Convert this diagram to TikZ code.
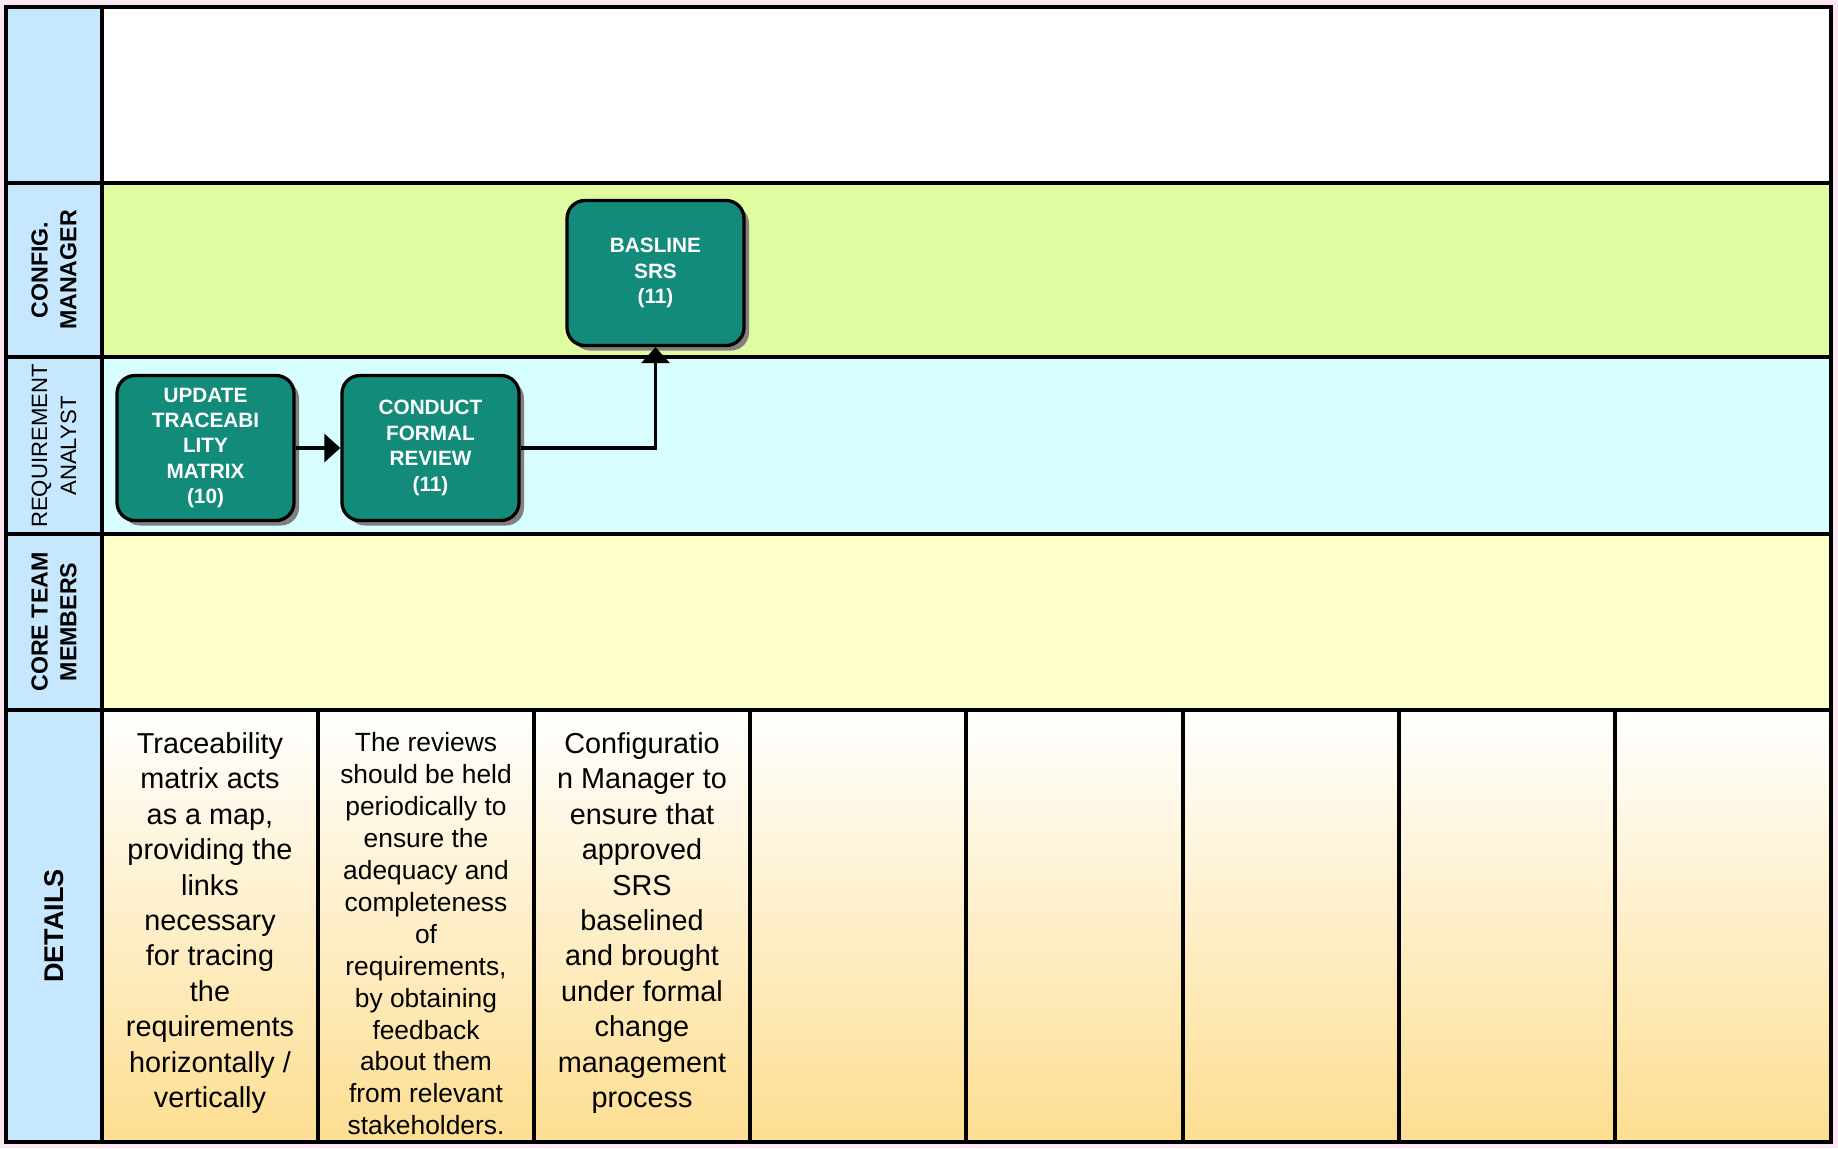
\documentclass[tikz,border=0pt]{standalone}
\usepackage{fontspec}
\setmainfont{Liberation Sans}
\usetikzlibrary{arrows.meta,shadows}

\definecolor{fondo}{RGB}{252,230,242}
\definecolor{cabecera}{RGB}{198,231,253}
\definecolor{verdecarril}{RGB}{223,252,160}
\definecolor{cianocarril}{RGB}{215,255,255}
\definecolor{amarillocarril}{RGB}{255,255,204}
\definecolor{detmedio}{RGB}{254,242,224}
\definecolor{detfondo}{RGB}{253,222,145}
\definecolor{tarea}{RGB}{19,139,122}

\begin{document}
\begin{tikzpicture}[x=0.1mm, y=-0.1mm,
        proc/.style={draw, line width=0.33mm, rounded corners=1.8mm, fill=tarea, text=white, align=center,
            font=\fontsize{5.9}{7.25}\selectfont\bfseries, minimum width=17.7mm, minimum height=14.5mm, inner sep=0pt,
            drop shadow={shadow xshift=0.5mm, shadow yshift=-0.5mm, fill=black!50, opacity=1}},
        carril/.style={rotate=90, align=center, font=\fontsize{6.6}{8.2}\selectfont\bfseries},
        detalle/.style={anchor=north, align=center, inner sep=0pt, font=\fontsize{8.2}{10.07}\selectfont},
        borde/.style={draw, line width=0.4mm},
        flecha/.style={-{Triangle[length=1.6mm, width=2.8mm]}, line width=0.32mm}
    ]
    \fill[fondo] (0,0) rectangle (1838,1148);
    \useasboundingbox (0,0) rectangle (1838,1148);

    \fill[cabecera] (6,7) rectangle (102,1142);
    \fill[white] (102,7) rectangle (1831,183);
    \fill[verdecarril] (102,183) rectangle (1831,357);
    \fill[cianocarril] (102,357) rectangle (1831,534);
    \fill[amarillocarril] (102,534) rectangle (1831,710);
    \foreach \i in {0,...,7}
        \shade[top color=white, middle color=detmedio, bottom color=detfondo] ({102+216.1*\i},710) rectangle ({102+216.1*(\i+1)},1142);

    \draw[borde] (6,7) rectangle (1831,1142);
    \draw[borde] (102,7) -- (102,1142);
    \foreach \y in {183,357,534,710}
        \draw[borde] (6,\y) -- (1831,\y);
    \foreach \i in {1,...,7}
        \draw[borde] ({102+216.1*\i},710) -- ({102+216.1*\i},1142);

    \node (cfg) [carril] at (54,270) {CONFIG.\\MANAGER};
    \node (ana) [carril, font=\fontsize{6.3}{8.2}\selectfont] at (54,446) {REQUIREMENT\\ANALYST};
    \node (core) [carril] at (54,622) {CORE TEAM\\MEMBERS};
    \node (det) [carril, font=\fontsize{7.7}{9}\selectfont\bfseries] at (54,926) {DETAILS};

    \node (upd) [proc] at (205.5,448) {UPDATE\\TRACEABI\\LITY\\MATRIX\\(10)};
    \node (cond) [proc, right of=upd, xshift=1.25cm] {CONDUCT\\FORMAL\\REVIEW\\(11)};
    \node (basl) [proc, right of=cond, xshift=1.25cm, yshift=1.75cm] {BASLINE\\SRS\\(11)};

    \draw [flecha] (upd) -- (cond);
    \draw [flecha] (cond) -| (basl);

    \node (det1) [detalle] at (210,732) {Traceability\\matrix acts\\as a map,\\providing the\\links\\necessary\\for tracing\\the\\requirements\\horizontally /\\vertically};
    \node (det2) [detalle, font=\fontsize{7.5}{9.08}\selectfont] at (426,732) {The reviews\\should be held\\periodically to\\ensure the\\adequacy and\\completeness\\of\\requirements,\\by obtaining\\feedback\\about them\\from relevant\\stakeholders.};
    \node (det3) [detalle] at (642,732) {Configuratio\\n Manager to\\ensure that\\approved\\SRS\\baselined\\and brought\\under formal\\change\\management\\process};
\end{tikzpicture}
\end{document}
